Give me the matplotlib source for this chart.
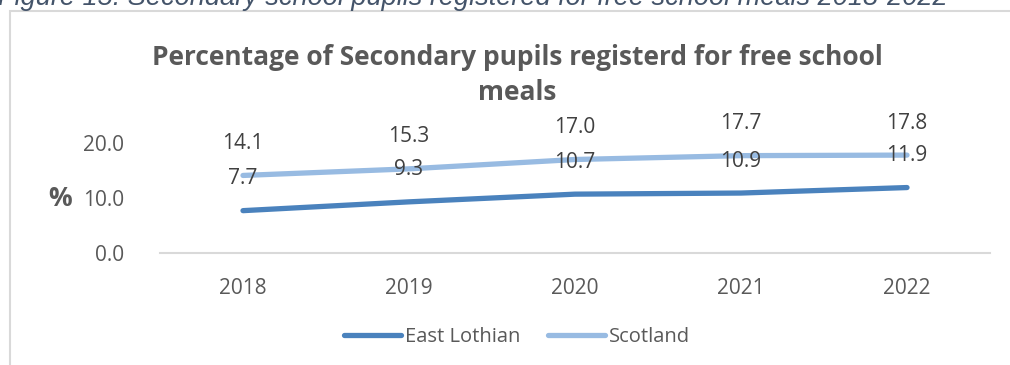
import matplotlib.pyplot as plt
from matplotlib.patches import Rectangle
from matplotlib.lines import Line2D

years = ['2018', '2019', '2020', '2021', '2022']
east_lothian = [7.7, 9.3, 10.7, 10.9, 11.9]
scotland = [14.1, 15.3, 17.0, 17.7, 17.8]

W, H = 1010, 365
TEXT = '#595959'
DARK_BLUE = '#4A82BD'
LIGHT_BLUE = '#98BBE2'

plt.rcParams['font.family'] = ['Open Sans', 'DejaVu Sans']

fig = plt.figure(figsize=(W / 100, H / 100), dpi=100)

# chart frame
fig.patches.append(Rectangle((10 / W, -0.1), 1.2, (H - 11) / H + 0.1,
                             transform=fig.transFigure, fill=False,
                             edgecolor='#D9D9D9', linewidth=1.5))

# figure caption above the frame
fig.text(-2 / W, (H - 5) / H,
         'Figure 15: Secondary school pupils registered for free school meals 2018-2022',
         family='Liberation Sans', style='italic', fontsize=19.5, color='#44546A',
         ha='left', va='baseline')

ax = fig.add_axes([160 / W, (H - 253) / H, 830 / W, 110 / H])
x = range(len(years))
ax.plot(x, east_lothian, color=DARK_BLUE, lw=3.8, solid_capstyle='round', clip_on=False)
ax.plot(x, scotland, color=LIGHT_BLUE, lw=3.8, solid_capstyle='round', clip_on=False)

# value labels above each point
for series in (scotland, east_lothian):
    for xi, v in zip(x, series):
        ax.annotate(f'{v:.1f}', (xi, v), xytext=(0, 23), textcoords='offset points',
                    ha='center', va='center', fontsize=15, color='#404040')

ax.set_xlim(-0.5, 4.5)
ax.set_ylim(0, 20)
ax.set_yticks([0, 10, 20])
ax.set_yticklabels(['0.0', '10.0', '20.0'])
ax.set_xticks(list(x))
ax.set_xticklabels(years)
ax.tick_params(axis='both', length=0, labelsize=15, labelcolor=TEXT)
ax.tick_params(axis='y', pad=26)
ax.tick_params(axis='x', pad=18)
for side in ['top', 'right', 'left']:
    ax.spines[side].set_visible(False)
ax.spines['bottom'].set_color('#D9D9D9')
ax.spines['bottom'].set_linewidth(1.5)

ax.text(-0.12, 0.5, '%', transform=ax.transAxes, fontsize=19, fontweight='bold',
        color=TEXT, ha='center', va='center')

fig.text(517 / W, (H - 75) / H,
         'Percentage of Secondary pupils registerd for free school\nmeals',
         ha='center', va='center', fontsize=19, fontweight='bold', color=TEXT,
         linespacing=1.35)

handles = [Line2D([], [], color=DARK_BLUE, lw=3.8, solid_capstyle='round'),
           Line2D([], [], color=LIGHT_BLUE, lw=3.8, solid_capstyle='round')]
fig.legend(handles, ['East Lothian', 'Scotland'], loc='center',
           bbox_to_anchor=(517 / W, (H - 337) / H), ncol=2, frameon=False,
           fontsize=14.5, labelcolor=TEXT, handlelength=2.8, handletextpad=0.2,
           columnspacing=1.4)

fig.savefig('out.png', dpi=100)
